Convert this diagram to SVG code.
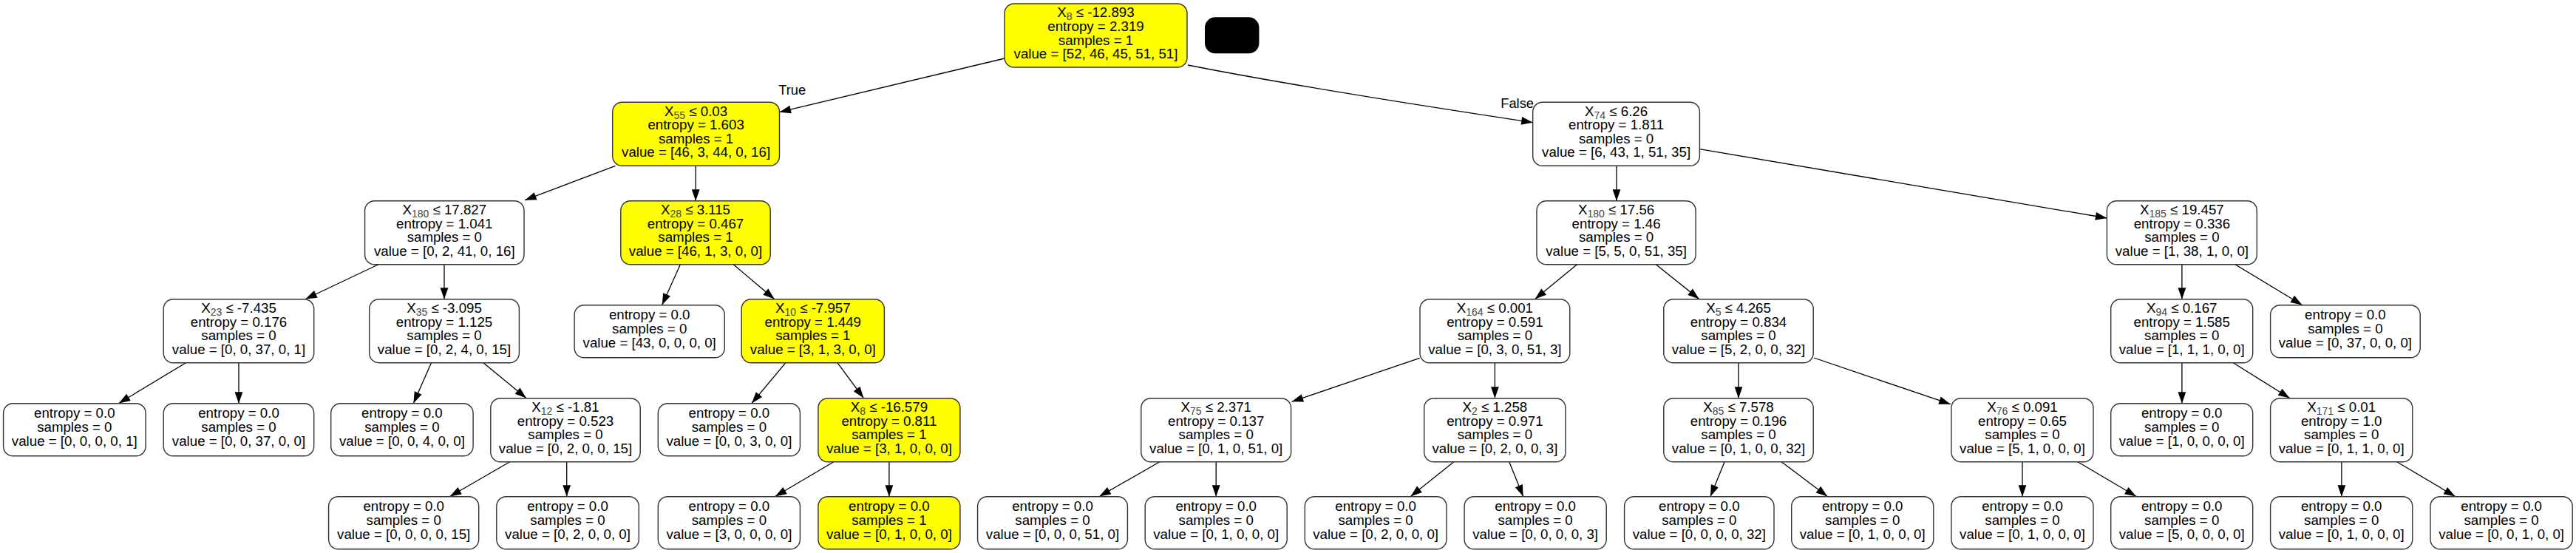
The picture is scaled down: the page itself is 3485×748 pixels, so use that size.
<svg xmlns="http://www.w3.org/2000/svg" width="3485" height="748" viewBox="0 0 3485 748">
<style>
rect.b{fill:#fff;stroke:#333;stroke-width:1.4}
.y rect.b{fill:#ffff00}
text{font-family:"Liberation Sans",Arial,Helvetica,sans-serif;font-size:18.7px;text-anchor:middle;fill:#000}
tspan.s{font-size:14px;fill:#444}
#edges line,#edges path{stroke:#000;stroke-width:1.3;fill:none;marker-end:url(#ah)}
text.lbl{font-size:18.3px}
</style>
<defs>
<marker id="ah" markerUnits="userSpaceOnUse" markerWidth="16" markerHeight="11" refX="15.5" refY="5.4" orient="auto" overflow="visible">
<path d="M0,0 L15.5,5.4 L0,10.8 z" fill="#000"/>
</marker>
</defs>
<rect width="3485" height="748" fill="#fff"/>

<g id="edges">
<line x1="1359" y1="79" x2="1054.5" y2="151.7"/>
<path d="M1607,88 Q1760,118.3 2073.7,165.7"/>
<line x1="832.5" y1="224.3" x2="710.1" y2="270.7"/>
<line x1="941.2" y1="224" x2="941.2" y2="271.7"/>
<line x1="512.8" y1="357.3" x2="413.3" y2="404.5"/>
<line x1="601" y1="357.3" x2="601" y2="404.7"/>
<line x1="920.6" y1="357.3" x2="895.7" y2="412.5"/>
<line x1="991.7" y1="357.3" x2="1047.6" y2="404.5"/>
<line x1="251.4" y1="490.7" x2="160.7" y2="545.5"/>
<line x1="323" y1="490.7" x2="323" y2="545.7"/>
<line x1="583.5" y1="490.7" x2="559.4" y2="545.5"/>
<line x1="653.9" y1="490.7" x2="712" y2="538.5"/>
<line x1="1062.9" y1="490.7" x2="1017" y2="545.5"/>
<line x1="1132.9" y1="490.7" x2="1168.4" y2="538.5"/>
<line x1="691" y1="624" x2="608.7" y2="671.5"/>
<line x1="766.7" y1="624" x2="766.7" y2="671.7"/>
<line x1="1129.1" y1="624" x2="1048.7" y2="671.5"/>
<line x1="1202.9" y1="624" x2="1202.9" y2="671.7"/>
<line x1="2187" y1="224" x2="2187" y2="271.7"/>
<line x1="2299.4" y1="201.7" x2="2850.4" y2="295"/>
<line x1="2134.1" y1="357.3" x2="2076.7" y2="404.5"/>
<line x1="2239.7" y1="357.3" x2="2298.7" y2="404.5"/>
<line x1="1920.6" y1="484.3" x2="1747.7" y2="543.3"/>
<line x1="2022.4" y1="490.7" x2="2022.4" y2="538.7"/>
<line x1="2352" y1="490.7" x2="2352" y2="538.7"/>
<line x1="2453.9" y1="484" x2="2638.7" y2="546.7"/>
<line x1="1570.2" y1="624" x2="1487.2" y2="671.5"/>
<line x1="1645.2" y1="624" x2="1645.2" y2="671.7"/>
<line x1="1967.7" y1="624" x2="1908.4" y2="671.5"/>
<line x1="2041.5" y1="624" x2="2060.7" y2="671.5"/>
<line x1="2333.4" y1="624" x2="2314" y2="671.5"/>
<line x1="2409.2" y1="624" x2="2472.3" y2="671.5"/>
<line x1="2736" y1="624" x2="2736" y2="671.7"/>
<line x1="2809.8" y1="624" x2="2890.1" y2="671.5"/>
<line x1="2951.9" y1="357.3" x2="2951.9" y2="404.7"/>
<line x1="3023.1" y1="357.3" x2="3114.5" y2="412.5"/>
<line x1="2951.9" y1="490.7" x2="2951.9" y2="545.7"/>
<line x1="3021.3" y1="490.7" x2="3097.7" y2="538.5"/>
<line x1="3167.9" y1="624" x2="3167.9" y2="671.7"/>
<line x1="3241.4" y1="624" x2="3321.6" y2="671.5"/>
<text class="lbl" x="1071.7" y="128.3">True</text>
<text class="lbl" x="2052.6" y="145.7">False</text>
</g>

<g id="n0" class="y"><rect class="b" x="1359" y="5" width="247" height="86" rx="13"/>
<text x="1482.5" y="23.3">X<tspan class="s" dy="4">8</tspan><tspan dy="-4"> ≤ -12.893</tspan></text>
<text x="1482.5" y="41.9">entropy = 2.319</text><text x="1482.5" y="60.5">samples = 1</text><text x="1482.5" y="79.1">value = [52, 46, 45, 51, 51]</text></g>

<g id="legend"><rect x="1630" y="23.3" width="73.4" height="49" rx="14" fill="#000"/></g>

<g id="n1" class="y"><rect class="b" x="828.7" y="138.3" width="225.8" height="86" rx="13"/>
<text x="941.6" y="156.6">X<tspan class="s" dy="4">55</tspan><tspan dy="-4"> ≤ 0.03</tspan></text>
<text x="941.6" y="175.2">entropy = 1.603</text><text x="941.6" y="193.8">samples = 1</text><text x="941.6" y="212.4">value = [46, 3, 44, 0, 16]</text></g>

<g id="n2"><rect class="b" x="493.6" y="271.7" width="215.4" height="86" rx="13"/>
<text x="601.3" y="290">X<tspan class="s" dy="4">180</tspan><tspan dy="-4"> ≤ 17.827</tspan></text>
<text x="601.3" y="308.6">entropy = 1.041</text><text x="601.3" y="327.2">samples = 0</text><text x="601.3" y="345.8">value = [0, 2, 41, 0, 16]</text></g>

<g id="n3"><rect class="b" x="221.2" y="404.7" width="203.5" height="86" rx="13"/>
<text x="323" y="423">X<tspan class="s" dy="4">23</tspan><tspan dy="-4"> ≤ -7.435</tspan></text>
<text x="323" y="441.6">entropy = 0.176</text><text x="323" y="460.2">samples = 0</text><text x="323" y="478.8">value = [0, 0, 37, 0, 1]</text></g>

<g id="n4"><rect class="b" x="4.6" y="545.7" width="192.5" height="71" rx="13"/>
<text x="100.8" y="565.2">entropy = 0.0</text><text x="100.8" y="584.3">samples = 0</text><text x="100.8" y="603.4">value = [0, 0, 0, 0, 1]</text></g>

<g id="n5"><rect class="b" x="221.2" y="545.7" width="203.5" height="71" rx="13"/>
<text x="323" y="565.2">entropy = 0.0</text><text x="323" y="584.3">samples = 0</text><text x="323" y="603.4">value = [0, 0, 37, 0, 0]</text></g>

<g id="n6"><rect class="b" x="499.7" y="404.7" width="202.7" height="86" rx="13"/>
<text x="601" y="423">X<tspan class="s" dy="4">35</tspan><tspan dy="-4"> ≤ -3.095</tspan></text>
<text x="601" y="441.6">entropy = 1.125</text><text x="601" y="460.2">samples = 0</text><text x="601" y="478.8">value = [0, 2, 4, 0, 15]</text></g>

<g id="n7"><rect class="b" x="447.7" y="545.7" width="192.4" height="71" rx="13"/>
<text x="543.9" y="565.2">entropy = 0.0</text><text x="543.9" y="584.3">samples = 0</text><text x="543.9" y="603.4">value = [0, 0, 4, 0, 0]</text></g>

<g id="n8"><rect class="b" x="663.8" y="538.7" width="202.4" height="86" rx="13"/>
<text x="765" y="557">X<tspan class="s" dy="4">12</tspan><tspan dy="-4"> ≤ -1.81</tspan></text>
<text x="765" y="575.6">entropy = 0.523</text><text x="765" y="594.2">samples = 0</text><text x="765" y="612.8">value = [0, 2, 0, 0, 15]</text></g>

<g id="n9"><rect class="b" x="444.6" y="671.7" width="203.1" height="71" rx="13"/>
<text x="546.2" y="691.2">entropy = 0.0</text><text x="546.2" y="710.3">samples = 0</text><text x="546.2" y="729.4">value = [0, 0, 0, 0, 15]</text></g>

<g id="n10"><rect class="b" x="671.8" y="671.7" width="192.5" height="71" rx="13"/>
<text x="768" y="691.2">entropy = 0.0</text><text x="768" y="710.3">samples = 0</text><text x="768" y="729.4">value = [0, 2, 0, 0, 0]</text></g>

<g id="n11" class="y"><rect class="b" x="839.8" y="271.7" width="202.4" height="86" rx="13"/>
<text x="941" y="290">X<tspan class="s" dy="4">28</tspan><tspan dy="-4"> ≤ 3.115</tspan></text>
<text x="941" y="308.6">entropy = 0.467</text><text x="941" y="327.2">samples = 1</text><text x="941" y="345.8">value = [46, 1, 3, 0, 0]</text></g>

<g id="n12"><rect class="b" x="777.1" y="412.7" width="203.2" height="71" rx="13"/>
<text x="878.7" y="432.2">entropy = 0.0</text><text x="878.7" y="451.3">samples = 0</text><text x="878.7" y="470.4">value = [43, 0, 0, 0, 0]</text></g>

<g id="n13" class="y"><rect class="b" x="1003.2" y="404.7" width="193.2" height="86" rx="13"/>
<text x="1099.8" y="423">X<tspan class="s" dy="4">10</tspan><tspan dy="-4"> ≤ -7.957</tspan></text>
<text x="1099.8" y="441.6">entropy = 1.449</text><text x="1099.8" y="460.2">samples = 1</text><text x="1099.8" y="478.8">value = [3, 1, 3, 0, 0]</text></g>

<g id="n14"><rect class="b" x="890.3" y="545.7" width="192.1" height="71" rx="13"/>
<text x="986.4" y="565.2">entropy = 0.0</text><text x="986.4" y="584.3">samples = 0</text><text x="986.4" y="603.4">value = [0, 0, 3, 0, 0]</text></g>

<g id="n15" class="y"><rect class="b" x="1106.9" y="538.7" width="192" height="86" rx="13"/>
<text x="1202.9" y="557">X<tspan class="s" dy="4">8</tspan><tspan dy="-4"> ≤ -16.579</tspan></text>
<text x="1202.9" y="575.6">entropy = 0.811</text><text x="1202.9" y="594.2">samples = 1</text><text x="1202.9" y="612.8">value = [3, 1, 0, 0, 0]</text></g>

<g id="n16"><rect class="b" x="890.3" y="671.7" width="192.1" height="71" rx="13"/>
<text x="986.4" y="691.2">entropy = 0.0</text><text x="986.4" y="710.3">samples = 0</text><text x="986.4" y="729.4">value = [3, 0, 0, 0, 0]</text></g>

<g id="n17" class="y"><rect class="b" x="1106.9" y="671.7" width="192" height="71" rx="13"/>
<text x="1202.9" y="691.2">entropy = 0.0</text><text x="1202.9" y="710.3">samples = 1</text><text x="1202.9" y="729.4">value = [0, 1, 0, 0, 0]</text></g>

<g id="n18"><rect class="b" x="2073.7" y="138.3" width="225.7" height="86" rx="13"/>
<text x="2186.6" y="156.6">X<tspan class="s" dy="4">74</tspan><tspan dy="-4"> ≤ 6.26</tspan></text>
<text x="2186.6" y="175.2">entropy = 1.811</text><text x="2186.6" y="193.8">samples = 0</text><text x="2186.6" y="212.4">value = [6, 43, 1, 51, 35]</text></g>

<g id="n19"><rect class="b" x="2079" y="271.7" width="215.1" height="86" rx="13"/>
<text x="2186.6" y="290">X<tspan class="s" dy="4">180</tspan><tspan dy="-4"> ≤ 17.56</tspan></text>
<text x="2186.6" y="308.6">entropy = 1.46</text><text x="2186.6" y="327.2">samples = 0</text><text x="2186.6" y="345.8">value = [5, 5, 0, 51, 35]</text></g>

<g id="n20"><rect class="b" x="1921" y="404.7" width="202.8" height="86" rx="13"/>
<text x="2022.4" y="423">X<tspan class="s" dy="4">164</tspan><tspan dy="-4"> ≤ 0.001</tspan></text>
<text x="2022.4" y="441.6">entropy = 0.591</text><text x="2022.4" y="460.2">samples = 0</text><text x="2022.4" y="478.8">value = [0, 3, 0, 51, 3]</text></g>

<g id="n21"><rect class="b" x="1543.8" y="538.7" width="202.8" height="86" rx="13"/>
<text x="1645.2" y="557">X<tspan class="s" dy="4">75</tspan><tspan dy="-4"> ≤ 2.371</tspan></text>
<text x="1645.2" y="575.6">entropy = 0.137</text><text x="1645.2" y="594.2">samples = 0</text><text x="1645.2" y="612.8">value = [0, 1, 0, 51, 0]</text></g>

<g id="n22"><rect class="b" x="1322.6" y="671.7" width="202.8" height="71" rx="13"/>
<text x="1424" y="691.2">entropy = 0.0</text><text x="1424" y="710.3">samples = 0</text><text x="1424" y="729.4">value = [0, 0, 0, 51, 0]</text></g>

<g id="n23"><rect class="b" x="1549.2" y="671.7" width="192" height="71" rx="13"/>
<text x="1645.2" y="691.2">entropy = 0.0</text><text x="1645.2" y="710.3">samples = 0</text><text x="1645.2" y="729.4">value = [0, 1, 0, 0, 0]</text></g>

<g id="n24"><rect class="b" x="1926.7" y="538.7" width="191.3" height="86" rx="13"/>
<text x="2022.4" y="557">X<tspan class="s" dy="4">2</tspan><tspan dy="-4"> ≤ 1.258</tspan></text>
<text x="2022.4" y="575.6">entropy = 0.971</text><text x="2022.4" y="594.2">samples = 0</text><text x="2022.4" y="612.8">value = [0, 2, 0, 0, 3]</text></g>

<g id="n25"><rect class="b" x="1765.3" y="671.7" width="191.7" height="71" rx="13"/>
<text x="1861.1" y="691.2">entropy = 0.0</text><text x="1861.1" y="710.3">samples = 0</text><text x="1861.1" y="729.4">value = [0, 2, 0, 0, 0]</text></g>

<g id="n26"><rect class="b" x="1981.1" y="671.7" width="192.1" height="71" rx="13"/>
<text x="2077.1" y="691.2">entropy = 0.0</text><text x="2077.1" y="710.3">samples = 0</text><text x="2077.1" y="729.4">value = [0, 0, 0, 0, 3]</text></g>

<g id="n27"><rect class="b" x="2250.8" y="404.7" width="202.4" height="86" rx="13"/>
<text x="2352" y="423">X<tspan class="s" dy="4">5</tspan><tspan dy="-4"> ≤ 4.265</tspan></text>
<text x="2352" y="441.6">entropy = 0.834</text><text x="2352" y="460.2">samples = 0</text><text x="2352" y="478.8">value = [5, 2, 0, 0, 32]</text></g>

<g id="n28"><rect class="b" x="2250.8" y="538.7" width="202.4" height="86" rx="13"/>
<text x="2352" y="557">X<tspan class="s" dy="4">85</tspan><tspan dy="-4"> ≤ 7.578</tspan></text>
<text x="2352" y="575.6">entropy = 0.196</text><text x="2352" y="594.2">samples = 0</text><text x="2352" y="612.8">value = [0, 1, 0, 0, 32]</text></g>

<g id="n29"><rect class="b" x="2197.6" y="671.7" width="202.4" height="71" rx="13"/>
<text x="2298.8" y="691.2">entropy = 0.0</text><text x="2298.8" y="710.3">samples = 0</text><text x="2298.8" y="729.4">value = [0, 0, 0, 0, 32]</text></g>

<g id="n30"><rect class="b" x="2423.7" y="671.7" width="192.1" height="71" rx="13"/>
<text x="2519.7" y="691.2">entropy = 0.0</text><text x="2519.7" y="710.3">samples = 0</text><text x="2519.7" y="729.4">value = [0, 1, 0, 0, 0]</text></g>

<g id="n31"><rect class="b" x="2639.9" y="538.7" width="192.1" height="86" rx="13"/>
<text x="2736" y="557">X<tspan class="s" dy="4">76</tspan><tspan dy="-4"> ≤ 0.091</tspan></text>
<text x="2736" y="575.6">entropy = 0.65</text><text x="2736" y="594.2">samples = 0</text><text x="2736" y="612.8">value = [5, 1, 0, 0, 0]</text></g>

<g id="n32"><rect class="b" x="2639.9" y="671.7" width="192.1" height="71" rx="13"/>
<text x="2736" y="691.2">entropy = 0.0</text><text x="2736" y="710.3">samples = 0</text><text x="2736" y="729.4">value = [0, 1, 0, 0, 0]</text></g>

<g id="n33"><rect class="b" x="2855.7" y="671.7" width="192" height="71" rx="13"/>
<text x="2951.7" y="691.2">entropy = 0.0</text><text x="2951.7" y="710.3">samples = 0</text><text x="2951.7" y="729.4">value = [5, 0, 0, 0, 0]</text></g>

<g id="n34"><rect class="b" x="2850.4" y="271.7" width="202.9" height="86" rx="13"/>
<text x="2951.9" y="290">X<tspan class="s" dy="4">185</tspan><tspan dy="-4"> ≤ 19.457</tspan></text>
<text x="2951.9" y="308.6">entropy = 0.336</text><text x="2951.9" y="327.2">samples = 0</text><text x="2951.9" y="345.8">value = [1, 38, 1, 0, 0]</text></g>

<g id="n35"><rect class="b" x="2855.7" y="404.7" width="192" height="86" rx="13"/>
<text x="2951.7" y="423">X<tspan class="s" dy="4">94</tspan><tspan dy="-4"> ≤ 0.167</tspan></text>
<text x="2951.7" y="441.6">entropy = 1.585</text><text x="2951.7" y="460.2">samples = 0</text><text x="2951.7" y="478.8">value = [1, 1, 1, 0, 0]</text></g>

<g id="n36"><rect class="b" x="2855.7" y="545.7" width="192" height="71" rx="13"/>
<text x="2951.7" y="565.2">entropy = 0.0</text><text x="2951.7" y="584.3">samples = 0</text><text x="2951.7" y="603.4">value = [1, 0, 0, 0, 0]</text></g>

<g id="n37"><rect class="b" x="3071.6" y="538.7" width="192.2" height="86" rx="13"/>
<text x="3167.7" y="557">X<tspan class="s" dy="4">171</tspan><tspan dy="-4"> ≤ 0.01</tspan></text>
<text x="3167.7" y="575.6">entropy = 1.0</text><text x="3167.7" y="594.2">samples = 0</text><text x="3167.7" y="612.8">value = [0, 1, 1, 0, 0]</text></g>

<g id="n38"><rect class="b" x="3071.6" y="671.7" width="192.2" height="71" rx="13"/>
<text x="3167.7" y="691.2">entropy = 0.0</text><text x="3167.7" y="710.3">samples = 0</text><text x="3167.7" y="729.4">value = [0, 1, 0, 0, 0]</text></g>

<g id="n39"><rect class="b" x="3288" y="671.7" width="192.2" height="71" rx="13"/>
<text x="3384.1" y="691.2">entropy = 0.0</text><text x="3384.1" y="710.3">samples = 0</text><text x="3384.1" y="729.4">value = [0, 0, 1, 0, 0]</text></g>

<g id="n40"><rect class="b" x="3071.6" y="412.7" width="202.6" height="71" rx="13"/>
<text x="3172.9" y="432.2">entropy = 0.0</text><text x="3172.9" y="451.3">samples = 0</text><text x="3172.9" y="470.4">value = [0, 37, 0, 0, 0]</text></g>
</svg>
